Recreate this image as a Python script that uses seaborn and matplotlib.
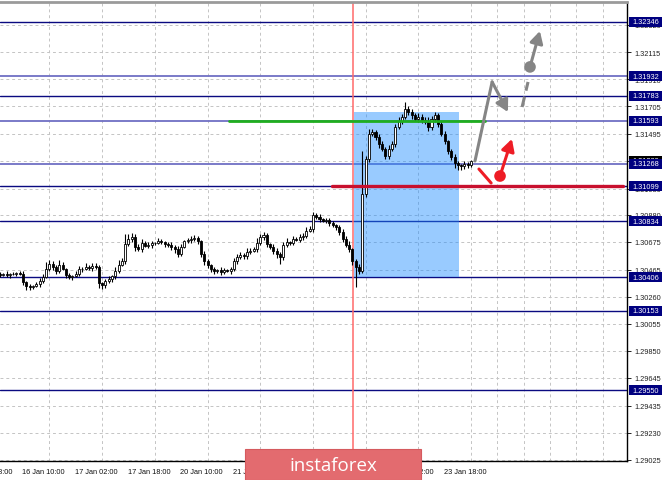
import numpy as np
import pandas as pd
import matplotlib
matplotlib.use("Agg")
import matplotlib.pyplot as plt
import matplotlib.transforms as mtransforms
from matplotlib.patches import Rectangle
import seaborn as sns

# GBPUSD H1, 15 Jan 2020 .. 23 Jan 2020
first_open = 1.30433
closes = [
    1.30425, 1.30433, 1.30425, 1.30433, 1.30433, 1.30440, 1.30433, 1.30372,
    1.30342, 1.30334, 1.30342, 1.30357, 1.30379, 1.30410, 1.30470, 1.30508,
    1.30486, 1.30455, 1.30501, 1.30470, 1.30425, 1.30410, 1.30417, 1.30433,
    1.30470, 1.30470, 1.30486, 1.30478, 1.30493, 1.30486, 1.30364, 1.30349,
    1.30379, 1.30395, 1.30417, 1.30455, 1.30501, 1.30531, 1.30660, 1.30698,
    1.30713, 1.30637, 1.30622, 1.30667, 1.30645, 1.30652, 1.30667, 1.30667,
    1.30683, 1.30675, 1.30660, 1.30652, 1.30637, 1.30622, 1.30584, 1.30637,
    1.30683, 1.30690, 1.30698, 1.30705, 1.30683, 1.30584, 1.30531, 1.30501,
    1.30470, 1.30455, 1.30462, 1.30448, 1.30463, 1.30455, 1.30470, 1.30531,
    1.30561, 1.30576, 1.30569, 1.30599, 1.30607, 1.30622, 1.30667, 1.30713,
    1.30728, 1.30660, 1.30637, 1.30607, 1.30584, 1.30561, 1.30652, 1.30675,
    1.30670, 1.30698, 1.30690, 1.30713, 1.30720, 1.30758, 1.30774, 1.30880,
    1.30865, 1.30849, 1.30834, 1.30840, 1.30819, 1.30804, 1.30789, 1.30751,
    1.30698, 1.30652, 1.30622, 1.30531, 1.30486, 1.30455, 1.31039, 1.31304,
    1.31494, 1.31509, 1.31471, 1.31418, 1.31380, 1.31327, 1.31380, 1.31418,
    1.31547, 1.31592, 1.31623, 1.31683, 1.31660, 1.31638, 1.31607, 1.31623,
    1.31600, 1.31585, 1.31547, 1.31607, 1.31638, 1.31570, 1.31494, 1.31441,
    1.31365, 1.31319, 1.31274, 1.31259, 1.31251, 1.31266, 1.31259, 1.31289,
]
# wick lengths in points (1e-5) above / below the body
hi_wick = [
    15, 10, 20, 10, 15, 10, 15, 20,
    10, 15, 10, 15, 20, 25, 53, 30,
    20, 15, 35, 20, 10, 15, 10, 20,
    25, 15, 30, 15, 20, 20, 15, 10,
    15, 20, 10, 30, 40, 25, 76, 40,
    30, 20, 25, 30, 15, 20, 15, 10,
    20, 15, 10, 15, 20, 15, 25, 20,
    10, 15, 20, 25, 15, 10, 20, 15,
    10, 15, 10, 20, 15, 10, 15, 20,
    25, 20, 15, 30, 20, 15, 40, 25,
    20, 15, 10, 25, 20, 15, 20, 30,
    10, 20, 15, 25, 20, 30, 22, 20,
    15, 20, 10, 15, 20, 15, 10, 15,
    20, 25, 30, 10, 15, 20, 326, 23,
    40, 20, 15, 25, 20, 15, 30, 20,
    25, 30, 20, 53, 25, 20, 15, 30,
    20, 25, 40, 22, 20, 15, 25, 20,
    10, 15, 20, 15, 10, 20, 15, 10,
]
lo_wick = [
    15, 10, 15, 20, 10, 15, 10, 25,
    30, 20, 15, 10, 20, 15, 10, 15,
    20, 25, 15, 10, 20, 15, 20, 10,
    15, 20, 10, 15, 20, 15, 40, 30,
    20, 15, 25, 20, 15, 10, 20, 15,
    25, 30, 15, 20, 10, 15, 20, 15,
    10, 15, 20, 15, 25, 30, 20, 15,
    10, 15, 20, 15, 20, 25, 30, 20,
    25, 20, 15, 20, 15, 10, 20, 15,
    20, 15, 25, 20, 15, 10, 20, 15,
    20, 25, 15, 20, 30, 53, 20, 15,
    15, 20, 10, 15, 20, 15, 10, 20,
    15, 20, 10, 15, 20, 15, 20, 25,
    20, 15, 25, 30, 152, 20, 15, 20,
    25, 15, 20, 30, 15, 25, 20, 15,
    20, 15, 25, 15, 20, 30, 15, 20,
    25, 15, 30, 20, 25, 20, 15, 20,
    20, 25, 38, 40, 30, 25, 20, 15,
]

# horizontal levels with their price boxes
level_prices = [1.32346, 1.31932, 1.31783, 1.31593, 1.31268,
                1.31099, 1.30834, 1.30406, 1.30153, 1.29550]
level_light = [False, True, False, True, True,
               False, False, False, False, False]
bid_price = 1.31289

price_ticks = [1.32320, 1.32115, 1.31910, 1.31705, 1.31495, 1.31290, 1.31080,
               1.30880, 1.30675, 1.30465, 1.30260, 1.30055, 1.29850, 1.29645,
               1.29435, 1.29230, 1.29025]

time_ticks = [-9, 7, 23, 39, 55, 71, 87, 103, 119, 135]
time_labels = ["15 Jan 18:00", "16 Jan 10:00", "17 Jan 02:00", "17 Jan 18:00",
               "20 Jan 10:00", "21 Jan 02:00", "21 Jan 18:00", "22 Jan 10:00",
               "23 Jan 02:00", "23 Jan 18:00"]

# analyst drawings (bar index, price)
news_bar = 107.2
box_bars = [107.5, 139.35]
box_prices = [1.30410, 1.31660]
green_bars = [69.5, 147.2]
green_price = 1.31593
red_bars = [100.8, 189.2]
red_price = 1.31099
gray_path_x = [144.2, 149.4, 154.2]
gray_path_y = [1.31289, 1.31888, 1.31660]
gray_dash_x = [158.5, 160.3]
gray_dash_y = [1.31698, 1.31888]
gray_arrow_x = [160.9, 163.9]
gray_arrow_y = [1.32002, 1.32274]
red_dash_x = [145.4, 149.1]
red_dash_y = [1.31228, 1.31122]
red_arrow_x = [151.8, 155.4]
red_arrow_y = [1.31175, 1.31456]

sns.set_style("white")
plt.rcParams['font.family'] = ['Liberation Sans', 'DejaVu Sans']

df = pd.DataFrame({'close': closes, 'hw': hi_wick, 'lw': lo_wick})
df['bar'] = np.arange(len(df))
df['open'] = [first_open] + closes[:-1]
df['top'] = df[['open', 'close']].max(axis=1)
df['bot'] = df[['open', 'close']].min(axis=1)
df['high'] = df['top'] + df['hw'] * 1e-5
df['low'] = df['bot'] - df['lw'] * 1e-5

fig = plt.figure(figsize=(6.65, 4.81), dpi=100)
ax = fig.add_axes([0, 1 - 462 / 481, 627 / 665, 459 / 481])
ax.set_xlim(0, 627 / 3.294)
ax.set_ylim(1.29015, 1.32494)

# grid
ax.set_yticks(price_ticks)
ax.set_yticklabels([f"{p:.5f}" for p in price_ticks])
ax.set_xticks(np.arange(7, 190, 8), minor=True)
ax.set_xticks([t for t in time_ticks if t >= 0])
ax.set_xticklabels([])
ax.xaxis.grid(True, which='minor', ls=(0, (3, 3)), color='#c4c4c4', lw=0.7)
ax.yaxis.grid(True, which='major', ls=(0, (3, 3)), color='#c4c4c4', lw=0.7)
ax.set_axisbelow(True)
ax.yaxis.tick_right()
ax.tick_params(axis='y', which='major', length=3, width=0.7, pad=2,
               labelsize=5.3, colors='#222222', direction='out')
ax.tick_params(axis='x', which='major', length=4, width=0.8, color='black',
               direction='out')
ax.tick_params(axis='x', which='minor', length=0)
for s in ['left']:
    ax.spines[s].set_visible(False)
ax.spines['top'].set_color('#9a9a9a')
ax.spines['top'].set_linewidth(2)
ax.spines['right'].set_color('black')
ax.spines['right'].set_linewidth(1)
ax.spines['bottom'].set_color('black')
ax.spines['bottom'].set_linewidth(1)

# horizontal levels
for p, light in zip(level_prices, level_light):
    ax.axhline(p, color='#7070c4' if light else '#0a0a80',
               lw=1.3 if light else 1.0, zorder=1.2)

# blue zone
ax.add_patch(Rectangle((box_bars[0], box_prices[0]), box_bars[1] - box_bars[0],
                       box_prices[1] - box_prices[0], fc='#1e8cff', ec='none',
                       alpha=0.45, zorder=1.4))
ax.axvline(news_bar, color='#ff6a6a', lw=1.1, zorder=1.6)

# candles
ax.vlines(df['bar'], df['low'], df['high'], color='black', lw=0.8, zorder=2)
bull = df[df['close'] >= df['open']]
bear = df[df['close'] < df['open']]
ax.bar(bull['bar'], np.maximum(bull['top'] - bull['bot'], 2e-5), bottom=bull['bot'],
       width=0.62, color='white', edgecolor='black', lw=0.6, zorder=2.2)
ax.bar(bear['bar'], bear['top'] - bear['bot'], bottom=bear['bot'],
       width=0.62, color='black', edgecolor='black', lw=0.6, zorder=2.2)

# green / red lines
ax.plot(green_bars, [green_price] * 2, color='#1fae1f', lw=2, zorder=2.5)
ax.plot(red_bars, [red_price] * 2, color='#c8102e', lw=2.4, zorder=2.5)

# scenario arrows
gray = '#858585'
red = '#ee1c25'
sns.lineplot(x=gray_path_x[:2], y=gray_path_y[:2], sort=False, color=gray,
             lw=2.2, ax=ax, zorder=4)
sns.lineplot(x=gray_dash_x, y=gray_dash_y, sort=False, color=gray, lw=2.2,
             ax=ax, zorder=4, linestyle=(0, (3.5, 2)))
sns.lineplot(x=red_dash_x, y=red_dash_y, sort=False, color=red, lw=2.2,
             ax=ax, zorder=4)
sns.scatterplot(x=[gray_arrow_x[0]], y=[gray_arrow_y[0]], color=gray, s=70,
                ax=ax, zorder=5, edgecolor='none')
sns.scatterplot(x=[red_arrow_x[0]], y=[red_arrow_y[0]], color=red, s=70,
                ax=ax, zorder=5, edgecolor='none')
astyle = '-|>,head_length=0.55,head_width=0.3'
for xs, ys, c in [(gray_path_x[1:], gray_path_y[1:], gray),
                  (gray_arrow_x, gray_arrow_y, gray),
                  (red_arrow_x, red_arrow_y, red)]:
    ax.annotate('', xy=(xs[1], ys[1]), xytext=(xs[0], ys[0]),
                arrowprops=dict(arrowstyle=astyle, color=c, lw=2.2,
                                shrinkA=0, shrinkB=0, mutation_scale=13),
                zorder=5)

# time labels
for t, lab in zip(time_ticks, time_labels):
    ax.annotate(lab, xy=(t, 0), xycoords=('data', 'axes fraction'),
                xytext=(-0.5, -7.3), textcoords='offset points', ha='left',
                va='center', fontsize=5.3, color='#111111', annotation_clip=False)

# price boxes on the right scale
trans = mtransforms.blended_transform_factory(ax.transAxes, ax.transData)
bh = 10 * 0.0000758
boxes = [(bid_price, 'black')] + [(p, '#000080') for p in level_prices]
for i, (p, c) in enumerate(boxes):
    ax.add_patch(Rectangle((629 / 627, p - bh / 2), 33 / 627, bh, transform=trans,
                           fc=c, ec='none', clip_on=False, zorder=6 + i * 0.01))
    ax.text(645.5 / 627, p, f"{p:.5f}", transform=trans, ha='center', va='center',
            fontsize=5.3, color='white', clip_on=False, zorder=6.005 + i * 0.01)

# watermark
fig.add_artist(Rectangle((245 / 665, 0), 176 / 665, 31 / 481,
                         transform=fig.transFigure, fc='#e36b6f', ec='#d55a5e',
                         lw=0.8, zorder=10))
fig.text(333 / 665, 1 - 466 / 481, 'instaforex', ha='center', va='center',
         fontsize=13.5, color='white', family='Open Sans', zorder=11)

fig.savefig('out.png', dpi=100)
